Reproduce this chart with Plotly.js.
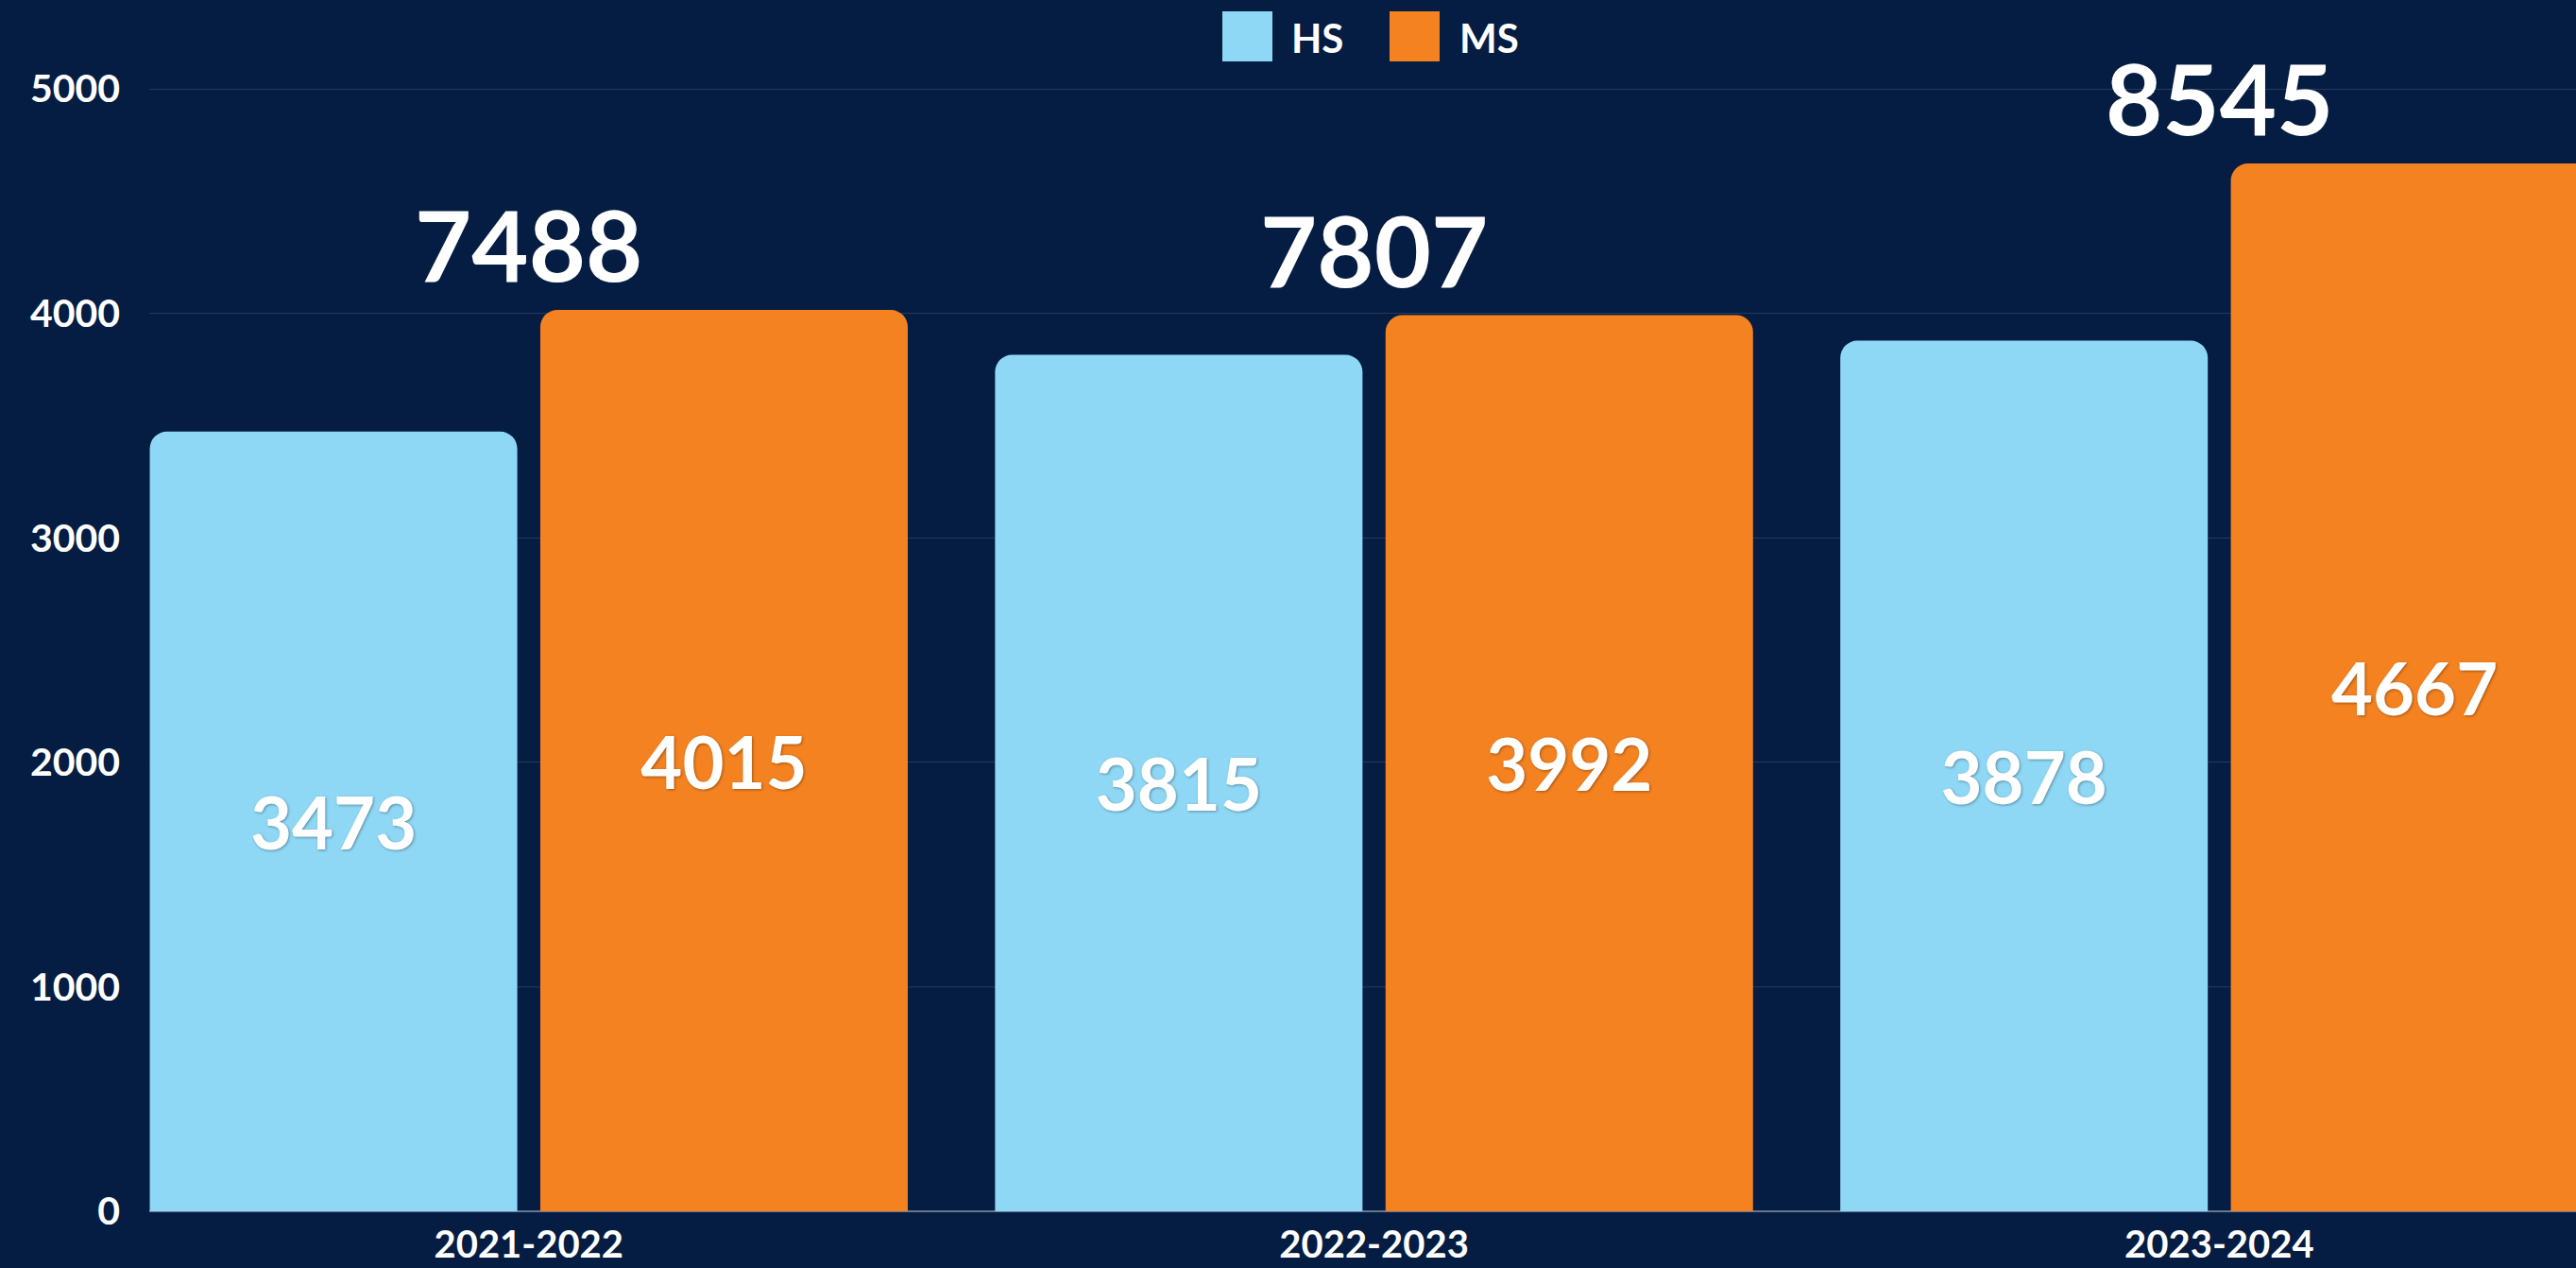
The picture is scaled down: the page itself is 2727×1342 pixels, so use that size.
<!DOCTYPE html>
<html>
<head>
<meta charset="utf-8">
<script src="https://cdn.plot.ly/plotly-3.0.1.min.js"></script>
<style>
  html, body { margin: 0; padding: 0; background: #051d42; }
  #chart { width: 2727px; height: 1342px; }
</style>
</head>
<body>
<div id="chart"></div>
<script>
// ---- data ----
const years = ["2021-2022", "2022-2023", "2023-2024"];
const hsValues = [3473, 3815, 3878];
const msValues = [4015, 3992, 4667];
const totals = [7488, 7807, 8545];
const yTicks = [0, 1000, 2000, 3000, 4000, 5000];
const seriesNames = ["HS", "MS"];

// ---- style ----
const W = 2727, H = 1342;
const M = { l: 158, r: 0, t: 20, b: 60 };
const BG = "#051d42";
const HS_COLOR = "#8ed8f6";
const MS_COLOR = "#f58220";
const FONT = "Lato, 'Open Sans', sans-serif";

const plotW = W - M.l - M.r, plotH = H - M.t - M.b;
const px = x => (x - M.l) / plotW;
const py = y => (H - M.b - y) / plotH;

const barText = {
  family: FONT, size: 76, color: "#ffffff", weight: 700,
  shadow: "1px 1px 3px rgba(0,0,0,0.35)"
};

const traces = [
  {
    type: "bar", name: seriesNames[0], x: years, y: hsValues,
    marker: { color: HS_COLOR, cornerradius: 18 },
    texttemplate: "%{y}", textposition: "inside", insidetextanchor: "middle",
    textangle: 0, constraintext: "none", textfont: barText,
    hoverinfo: "x+y+name", showlegend: false
  },
  {
    type: "bar", name: seriesNames[1], x: years, y: msValues,
    marker: { color: MS_COLOR, cornerradius: 18 },
    texttemplate: "%{y}", textposition: "inside", insidetextanchor: "middle",
    textangle: 0, constraintext: "none", textfont: barText,
    hoverinfo: "x+y+name", showlegend: false
  }
];

const annotations = years.map((yr, i) => ({
  xref: "x", yref: "y", x: yr, y: Math.max(hsValues[i], msValues[i]),
  text: String(totals[i]), showarrow: false,
  xanchor: "center", yanchor: "bottom", yshift: 6,
  font: { family: FONT, size: 104, color: "#ffffff", weight: 700 }
}));

// custom legend (large squares)
const legendItems = [
  { name: seriesNames[0], color: HS_COLOR, x0: 1294, x1: 1347, tx: 1365 },
  { name: seriesNames[1], color: MS_COLOR, x0: 1471, x1: 1524, tx: 1543 }
];
const shapes = [];
legendItems.forEach(it => {
  shapes.push({
    type: "rect", xref: "paper", yref: "paper",
    x0: px(it.x0), x1: px(it.x1), y0: py(65), y1: py(12),
    fillcolor: it.color, line: { width: 0 }, layer: "above"
  });
  annotations.push({
    xref: "paper", yref: "paper", x: px(it.tx), y: py(40),
    xanchor: "left", yanchor: "middle", showarrow: false,
    text: it.name,
    font: { family: FONT, size: 42, color: "#ffffff", weight: 700 }
  });
});

const layout = {
  width: W, height: H,
  margin: M,
  paper_bgcolor: BG, plot_bgcolor: BG,
  barmode: "group", bargap: 0.076, bargroupgap: 0.059,
  showlegend: false,
  font: { family: FONT, color: "#ffffff" },
  xaxis: {
    type: "category", range: [-0.449, 2.422],
    showgrid: false, zeroline: false, showline: false,
    ticks: "", ticklabelstandoff: 8,
    tickfont: { family: FONT, size: 40, color: "#ffffff", weight: 700 }
  },
  yaxis: {
    range: [0, plotH / 237.6 * 1000],
    tickvals: yTicks, ticktext: yTicks.map(String),
    showgrid: true, gridcolor: "rgba(255,255,255,0.13)", gridwidth: 1,
    zeroline: true, zerolinecolor: "rgba(200,210,225,0.5)", zerolinewidth: 2,
    showline: false, ticks: "", ticklabelstandoff: 30,
    tickfont: { family: FONT, size: 41, color: "#ffffff", weight: 700 }
  },
  annotations: annotations,
  shapes: shapes
};

Plotly.newPlot("chart", traces, layout, { displayModeBar: false, staticPlot: true });
</script>
</body>
</html>
